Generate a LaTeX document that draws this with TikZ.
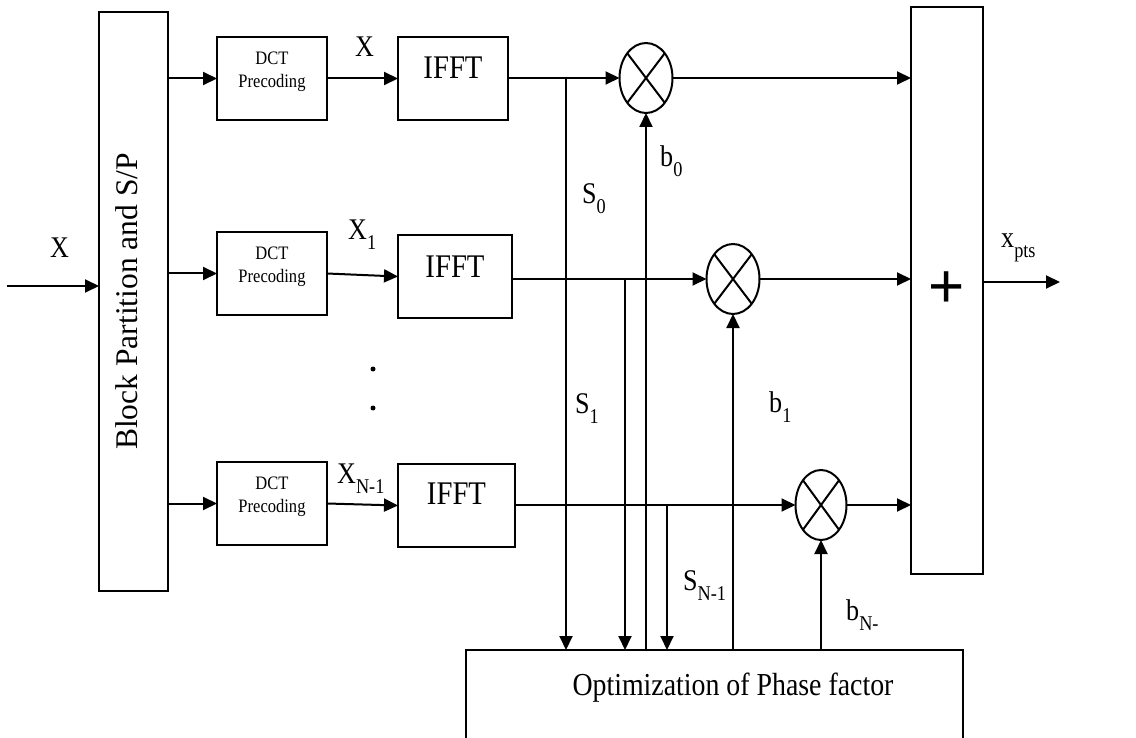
\documentclass[tikz,border=0pt]{standalone}
\usepackage{fontspec}
\setmainfont{Liberation Serif}[FakeStretch=0.87]
\newfontfamily\rotfont{Liberation Serif}
\newfontfamily\plusfont{Liberation Sans}
\usetikzlibrary{arrows.meta,calc,shapes.geometric}
\newcommand{\mysub}[1]{\raisebox{-10pt}{\fontsize{21}{21}\selectfont #1}}
\newcommand{\up}[2]{\raisebox{#1}[\height][\depth]{#2}}
\newcommand{\dcttext}{\up{7pt}{\begin{tabular}{@{}c@{}}DCT\\Precoding\end{tabular}}}
\tikzset{
  ln/.style={line width=2pt},
  arr/.style={line width=2pt,-{Triangle[length=14pt,width=13pt]}},
  blk/.style={draw,line width=2pt,inner sep=0pt,outer sep=0pt,align=center},
  dctbox/.style={blk,minimum width=110,minimum height=83,font=\fontsize{19}{23}\selectfont},
  ifftbox/.style={blk,minimum height=83,font=\fontsize{33}{36}\selectfont},
  mult/.style={draw,line width=2pt,ellipse,minimum width=53,minimum height=70,inner sep=0pt,outer sep=0pt},
  lbl/.style={anchor=base west,inner sep=0pt,font=\fontsize{30}{32}\selectfont}
}
\begin{document}
\begin{tikzpicture}[x=1pt,y=-1pt]
\useasboundingbox (0,0) rectangle (1136,738);
\clip (0,0) rectangle (1136,738);
% main blocks
\node[blk,minimum width=69,minimum height=579] (part) at (133.5,301.5)
  {\rotatebox{90}{\up{7pt}{\rotfont\fontsize{31.5}{33}\selectfont Block Partition and S/P}}};
\node[dctbox] (dct1) at (272,78.5) {\dcttext};
\node[dctbox] (dct2) at (272,273.5) {\dcttext};
\node[dctbox] (dct3) at (272,503.5) {\dcttext};
\node[ifftbox,minimum width=110] (ifft1) at (453,78.5) {\up{11pt}{IFFT}};
\node[ifftbox,minimum width=114] (ifft2) at (455,276.5) {\up{10pt}{IFFT}};
\node[ifftbox,minimum width=117] (ifft3) at (456.5,505.5) {\up{12pt}{IFFT}};
\node[mult] (m1) at (646,78) {};
\node[mult] (m2) at (733,279) {};
\node[mult,minimum width=51] (m3) at (821,505) {};
\foreach \m in {m1,m2,m3}{
  \draw[ln] (\m.north east) -- (\m.south west);
  \draw[ln] (\m.north west) -- (\m.south east);
}
\node[blk,minimum width=72,minimum height=567] (sum) at (947,290.5) {};
\node[inner sep=0pt,font=\plusfont\fontsize{62}{62}\selectfont] (plus) at (947,290) {+};
\node[blk,minimum width=497,minimum height=110] (opt) at (714.5,705)
  {\up{17.5pt}{\hspace{37pt}\fontsize{32}{34}\selectfont Optimization of Phase factor}};
% dots
\fill (373,369) circle (2.5);
\fill (373,408) circle (2.5);
% coordinates
\coordinate (in) at (7,286);
\coordinate (out) at (1060,282);
\coordinate (s0) at (566,78);
\coordinate (s1) at (625,279);
\coordinate (sn) at (667,505);
% input and S/P outputs
\draw[arr] (in) -- (part.west |- in);
\draw[arr] (part.east |- dct1) -- (dct1.west);
\draw[arr] (part.east |- dct2) -- (dct2.west);
\draw[arr] (part.east |- dct3) -- (dct3.west);
\draw[arr] (dct1.east) -- (ifft1.west);
\draw[arr] (dct2.east) -- (ifft2.west);
\draw[arr] (dct3.east) -- (ifft3.west);
% IFFT outputs to multipliers
\draw[arr] (ifft1.east |- m1) -- (m1.west);
\draw[arr] (ifft2.east |- m2) -- (m2.west);
\draw[arr] (ifft3.east |- m3) -- (m3.west);
% multipliers to sum
\draw[arr] (m1.east) -- (sum.west |- m1);
\draw[arr] (m2.east) -- (sum.west |- m2);
\draw[arr] (m3.east) -- (sum.west |- m3);
\draw[arr] (sum.east |- out) -- (out);
% branches to optimization
\draw[arr] (s0) -- (s0 |- opt.north);
\draw[arr] (s1) -- (s1 |- opt.north);
\draw[arr] (sn) -- (sn |- opt.north);
% phase factors
\draw[arr] (m1.south |- opt.north) -- (m1.south);
\draw[arr] (m2.south |- opt.north) -- (m2.south);
\draw[arr] (m3.south |- opt.north) -- (m3.south);
% labels
\node[lbl] (xin) at (50,258) {X};
\node[lbl] (x0) at (355,57) {X};
\node[lbl] (x1) at (348,240) {X\mysub{1}};
\node[lbl] (xn) at (337,483) {X\mysub{N-1}};
\node[lbl] (s0l) at (582,204) {S\mysub{0}};
\node[lbl] (b0l) at (660,167) {b\mysub{0}};
\node[lbl] (s1l) at (575,413) {S\mysub{1}};
\node[lbl] (b1l) at (769,412) {b\mysub{1}};
\node[lbl] (snl) at (683,590) {S\mysub{N-1}};
\node[lbl] (bnl) at (846,620) {b\mysub{N-}};
\node[lbl] (xpl) at (1001,248) {x\mysub{pts}};
\end{tikzpicture}
\end{document}
